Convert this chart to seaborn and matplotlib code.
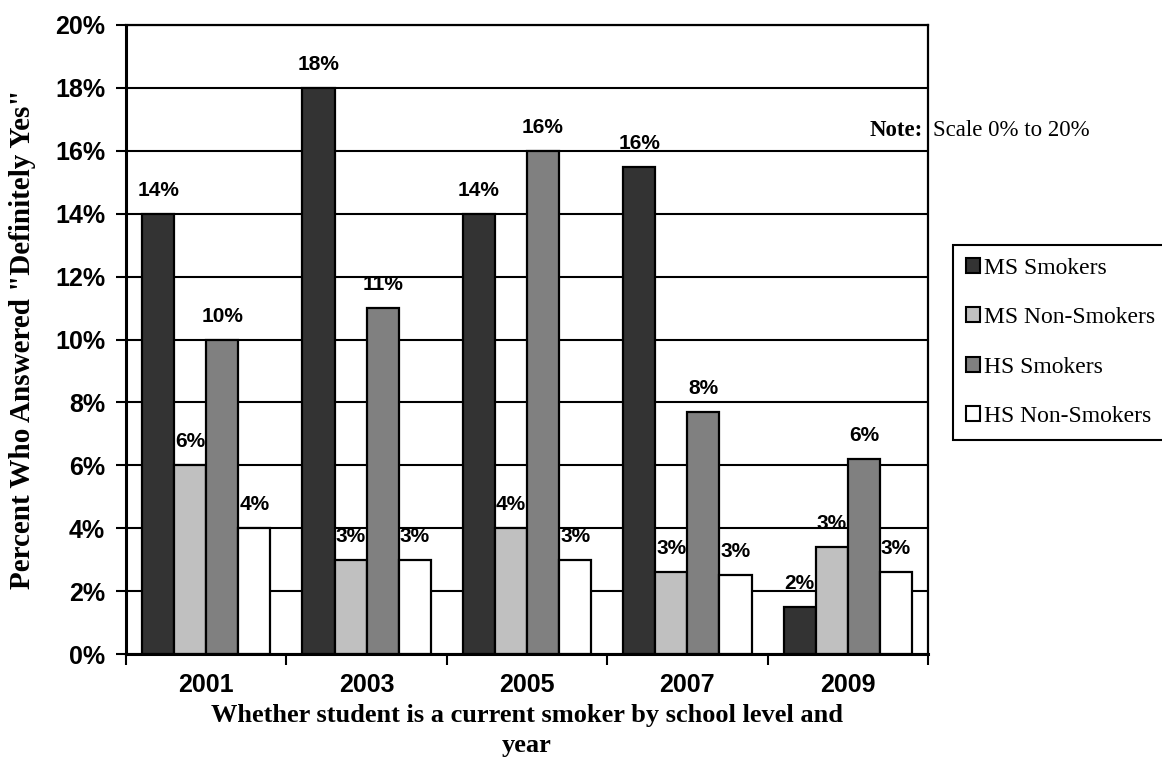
import math
import pandas as pd
import matplotlib.pyplot as plt
import matplotlib.patches as mpatches
from matplotlib.ticker import FixedLocator, FuncFormatter
import seaborn as sns

years = ['2001', '2003', '2005', '2007', '2009']
groups = ['MS Smokers', 'MS Non-Smokers', 'HS Smokers', 'HS Non-Smokers']
ms_smokers = [14, 18, 14, 15.5, 1.5]
ms_non_smokers = [6, 3, 4, 2.6, 3.4]
hs_smokers = [10, 11, 16, 7.7, 6.2]
hs_non_smokers = [4, 3, 3, 2.5, 2.6]
bar_colors = ['#333333', '#c0c0c0', '#808080', '#ffffff']

series = [ms_smokers, ms_non_smokers, hs_smokers, hs_non_smokers]
rows = []
for g, vals in zip(groups, series):
    for y, v in zip(years, vals):
        rows.append({'year': y, 'group': g, 'pct': v})
df = pd.DataFrame(rows)

sns.set_style('white')
plt.rcParams['text.color'] = 'black'
plt.rcParams['xtick.color'] = 'black'
plt.rcParams['ytick.color'] = 'black'
plt.rcParams['axes.labelcolor'] = 'black'
sans = ['Liberation Sans', 'DejaVu Sans']
serif = ['Liberation Serif', 'DejaVu Serif']

fig = plt.figure(figsize=(11.62, 7.57), dpi=100)
ax = fig.add_axes([126 / 1162, 1 - 654 / 757, (928 - 126) / 1162, (654 - 25) / 757])

sns.barplot(data=df, x='year', y='pct', hue='group', hue_order=groups,
            palette=bar_colors, edgecolor='black', linewidth=1.6,
            width=0.8, saturation=1, ax=ax, legend=False)

ax.set_ylim(0, 20)
ax.set_xlim(-0.5, 4.5)
ax.set_axisbelow(True)
ax.yaxis.set_major_locator(FixedLocator(range(0, 21, 2)))
ax.yaxis.set_major_formatter(FuncFormatter(lambda v, p: f'{v:.0f}%'))
ax.grid(axis='y', color='black', linewidth=1.5)
ax.grid(axis='x', visible=False)

for sp in ax.spines.values():
    sp.set_visible(True)
    sp.set_color('black')
    sp.set_linewidth(1.6)
ax.spines['left'].set_linewidth(2.2)
ax.spines['bottom'].set_linewidth(2.2)

ax.tick_params(axis='y', direction='out', length=7, width=1.5, left=True,
               labelsize=18, pad=8)
ax.set_xticks(range(len(years)))
ax.set_xticks([i - 0.5 for i in range(len(years) + 1)], minor=True)
ax.tick_params(axis='x', which='major', length=0, labelsize=18, pad=14)
ax.tick_params(axis='x', which='minor', direction='out', length=8, width=1.5, bottom=True)
for lab in ax.get_xticklabels() + ax.get_yticklabels():
    lab.set_family(sans)
    lab.set_fontweight('bold')

for cont, vals in zip(ax.containers, series):
    labels = [f'{math.floor(v + 0.5)}%' for v in vals]
    ax.bar_label(cont, labels=labels, padding=10, fontsize=15,
                 fontweight='bold', family=sans, color='black')

ax.set_ylabel('Percent Who Answered "Definitely Yes"', family=serif,
              fontweight='bold', fontsize=21, labelpad=14)
ax.set_xlabel('Whether student is a current smoker by school level and\nyear',
              family=serif, fontweight='bold', fontsize=19, labelpad=5,
              linespacing=1.35)

handles = [mpatches.Patch(facecolor=c, edgecolor='black', linewidth=1.5, label=g)
           for c, g in zip(bar_colors, groups)]
fig.legend(handles=handles, loc='upper left', bbox_to_anchor=(953 / 1162, 1 - 245 / 757),
           frameon=True, fancybox=False, edgecolor='black', framealpha=1,
           prop={'family': serif, 'size': 17}, handlelength=0.6, handleheight=0.6,
           handletextpad=0.15, labelspacing=1.2, borderpad=0.55, borderaxespad=0)
fig.legends[0].get_frame().set_linewidth(1.5)

fig.text(870 / 1162, 1 - 131 / 757, 'Note:', family=serif, fontweight='bold',
         fontsize=16.5, va='center', ha='left')
fig.text(933 / 1162, 1 - 131 / 757, 'Scale 0% to 20%', family=serif,
         fontsize=16.5, va='center', ha='left')

fig.savefig('out.png', dpi=100)
